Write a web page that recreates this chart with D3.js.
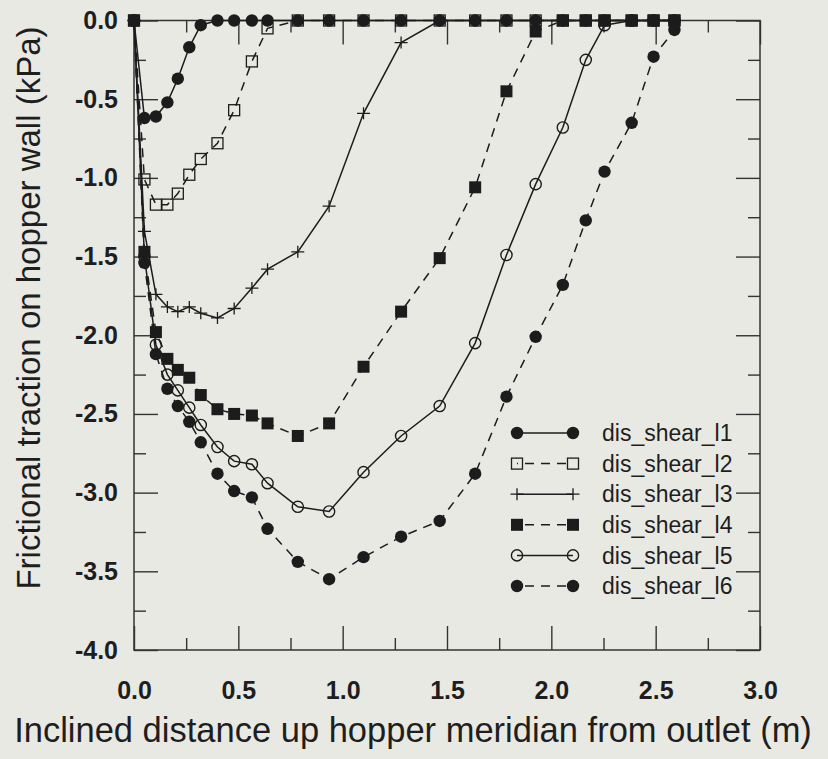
<!DOCTYPE html>
<html>
<head>
<meta charset="utf-8">
<script src="https://cdn.jsdelivr.net/npm/d3@7"></script>
<style>
  html, body { margin: 0; padding: 0; background: #e9e9e4; }
  svg { display: block; }
  text { font-family: "Liberation Sans", Arial, sans-serif; fill: #1e1e1e; }
</style>
</head>
<body>
<svg id="chart" width="828" height="759"></svg>
<script>
// ---- data ----
const xValues = [0, 0.05, 0.105, 0.16, 0.21, 0.265, 0.32, 0.40, 0.48, 0.565, 0.64, 0.785, 0.935, 1.10, 1.28, 1.465, 1.635, 1.785, 1.925, 2.055, 2.165, 2.255, 2.385, 2.49, 2.59];
const shearL1 = [0, -0.62, -0.61, -0.52, -0.37, -0.17, -0.03, 0, 0, 0, 0, 0, 0, 0, 0, 0, 0, 0, 0, 0, 0, 0, 0, 0, 0];
const shearL2 = [0, -1.01, -1.17, -1.17, -1.10, -0.98, -0.88, -0.78, -0.57, -0.26, -0.05, 0, 0, 0, 0, 0, 0, 0, 0, 0, 0, 0, 0, 0, 0];
const shearL3 = [0, -1.34, -1.74, -1.82, -1.85, -1.82, -1.86, -1.89, -1.83, -1.70, -1.58, -1.47, -1.18, -0.59, -0.14, 0, 0, 0, 0, 0, 0, 0, 0, 0, 0];
const shearL4 = [0, -1.47, -1.98, -2.15, -2.22, -2.27, -2.38, -2.47, -2.50, -2.51, -2.56, -2.64, -2.56, -2.20, -1.85, -1.51, -1.06, -0.45, -0.07, 0, 0, 0, 0, 0, 0];
const shearL5 = [0, -1.50, -2.06, -2.25, -2.35, -2.46, -2.57, -2.71, -2.80, -2.82, -2.94, -3.09, -3.12, -2.87, -2.64, -2.45, -2.05, -1.49, -1.04, -0.68, -0.25, -0.03, 0, 0, 0];
const shearL6 = [0, -1.54, -2.12, -2.34, -2.45, -2.55, -2.68, -2.88, -2.99, -3.03, -3.23, -3.44, -3.55, -3.41, -3.28, -3.18, -2.88, -2.39, -2.01, -1.68, -1.27, -0.96, -0.65, -0.23, -0.06];
const seriesNames = ["dis_shear_l1", "dis_shear_l2", "dis_shear_l3", "dis_shear_l4", "dis_shear_l5", "dis_shear_l6"];
const seriesMarkers = ["filledCircle", "openSquare", "plus", "filledSquare", "openCircle", "filledCircle"];
const seriesDashed = [false, true, false, true, false, true];
const xMajorTicks = [0, 0.5, 1.0, 1.5, 2.0, 2.5, 3.0];
const xMinorTicks = [0.25, 0.75, 1.25, 1.75, 2.25, 2.75];
const yMajorTicks = [0, -0.5, -1.0, -1.5, -2.0, -2.5, -3.0, -3.5, -4.0];
const yMinorTicks = [-0.25, -0.75, -1.25, -1.75, -2.25, -2.75, -3.25, -3.75];
const xTitle = "Inclined distance up hopper meridian from outlet (m)";
const yTitle = "Frictional traction on hopper wall (kPa)";

const allSeries = [shearL1, shearL2, shearL3, shearL4, shearL5, shearL6];

// ---- layout ----
const svg = d3.select("#chart");
const X0 = 134, X1 = 760, Y0 = 20.5, Y1 = 650;
const x = d3.scaleLinear().domain([0, 3]).range([X0, X1]);
const y = d3.scaleLinear().domain([0, -4]).range([Y0, Y1]);
const ink = "#1c1c1c";
const axisInk = "#333";

const fmt = d => Math.abs(d) < 1e-9 ? "0.0" : d.toFixed(1);

function styleAxis(g) {
  g.select(".domain").remove();
  g.selectAll(".tick line").attr("stroke", axisInk).attr("stroke-width", 1.4);
}

// bottom axis
svg.append("g").attr("transform", `translate(0,${Y1})`)
  .call(d3.axisBottom(x).tickValues(xMajorTicks).tickSize(-24).tickPadding(31).tickFormat(fmt))
  .call(styleAxis)
  .call(g => g.selectAll("text").attr("font-size", 25).attr("font-weight", "bold")
    .style("font-family", "'Liberation Sans', Arial, sans-serif").attr("fill", "#1e1e1e"));
svg.append("g").attr("transform", `translate(0,${Y1})`)
  .call(d3.axisBottom(x).tickValues(xMinorTicks).tickSize(-12).tickFormat(""))
  .call(styleAxis);
// top axis
svg.append("g").attr("transform", `translate(0,${Y0})`)
  .call(d3.axisTop(x).tickValues(xMajorTicks).tickSize(-24).tickFormat(""))
  .call(styleAxis);
svg.append("g").attr("transform", `translate(0,${Y0})`)
  .call(d3.axisTop(x).tickValues(xMinorTicks).tickSize(-12).tickFormat(""))
  .call(styleAxis);
// left axis
svg.append("g").attr("transform", `translate(${X0},0)`)
  .call(d3.axisLeft(y).tickValues(yMajorTicks).tickSize(-24).tickPadding(16).tickFormat(fmt))
  .call(styleAxis)
  .call(g => g.selectAll("text").attr("font-size", 25).attr("font-weight", "bold")
    .style("font-family", "'Liberation Sans', Arial, sans-serif").attr("fill", "#1e1e1e"));
svg.append("g").attr("transform", `translate(${X0},0)`)
  .call(d3.axisLeft(y).tickValues(yMinorTicks).tickSize(-12).tickFormat(""))
  .call(styleAxis);
// right axis
svg.append("g").attr("transform", `translate(${X1},0)`)
  .call(d3.axisRight(y).tickValues(yMajorTicks).tickSize(-24).tickFormat(""))
  .call(styleAxis);
svg.append("g").attr("transform", `translate(${X1},0)`)
  .call(d3.axisRight(y).tickValues(yMinorTicks).tickSize(-12).tickFormat(""))
  .call(styleAxis);

// frame
svg.append("rect").attr("x", X0).attr("y", Y0).attr("width", X1 - X0).attr("height", Y1 - Y0)
  .attr("fill", "none").attr("stroke", axisInk).attr("stroke-width", 1.5);

// axis titles
svg.append("text").attr("x", 413).attr("y", 742).attr("text-anchor", "middle")
  .attr("font-size", 34.5).text(xTitle);
svg.append("text").attr("transform", "translate(40,308) rotate(-90)").attr("text-anchor", "middle")
  .attr("font-size", 33).text(yTitle);

// marker drawing
function drawMarker(g, type, cx, cy) {
  if (type === "filledCircle") {
    g.append("circle").attr("cx", cx).attr("cy", cy).attr("r", 6.2).attr("fill", ink);
  } else if (type === "openCircle") {
    g.append("circle").attr("cx", cx).attr("cy", cy).attr("r", 5.6)
      .attr("fill", "none").attr("stroke", ink).attr("stroke-width", 1.4);
  } else if (type === "filledSquare") {
    g.append("rect").attr("x", cx - 6).attr("y", cy - 6).attr("width", 12).attr("height", 12).attr("fill", ink);
  } else if (type === "openSquare") {
    g.append("rect").attr("x", cx - 5.5).attr("y", cy - 5.5).attr("width", 11).attr("height", 11)
      .attr("fill", "none").attr("stroke", ink).attr("stroke-width", 1.3);
  } else if (type === "plus") {
    g.append("path").attr("d", `M${cx - 6.5},${cy}H${cx + 6.5}M${cx},${cy - 6}V${cy + 6}`)
      .attr("stroke", ink).attr("stroke-width", 1.3).attr("fill", "none");
  }
}

const line = d3.line().x(d => x(d[0])).y(d => y(d[1]));

allSeries.forEach((vals, i) => {
  const pts = vals.map((v, j) => [xValues[j], v]);
  const g = svg.append("g");
  g.append("path").attr("d", line(pts)).attr("fill", "none").attr("stroke", ink)
    .attr("stroke-width", 1.5).attr("stroke-dasharray", seriesDashed[i] ? "9,7" : null);
  pts.forEach(p => drawMarker(g, seriesMarkers[i], x(p[0]), y(p[1])));
});

// legend
const legX1 = 517, legX2 = 573, legTextX = 602, legY0 = 433, legStep = 30.6;
seriesNames.forEach((name, i) => {
  const ly = legY0 + i * legStep;
  const g = svg.append("g");
  g.append("line").attr("x1", legX1).attr("x2", legX2).attr("y1", ly).attr("y2", ly)
    .attr("stroke", ink).attr("stroke-width", 1.5)
    .attr("stroke-dasharray", seriesDashed[i] ? "9,7" : null)
    .attr("stroke-dashoffset", seriesDashed[i] ? -8 : 0);
  drawMarker(g, seriesMarkers[i], legX1, ly);
  drawMarker(g, seriesMarkers[i], legX2, ly);
  g.append("text").attr("x", legTextX).attr("y", ly).attr("dy", "0.36em")
    .attr("font-size", 23).text(name);
});
</script>
</body>
</html>
